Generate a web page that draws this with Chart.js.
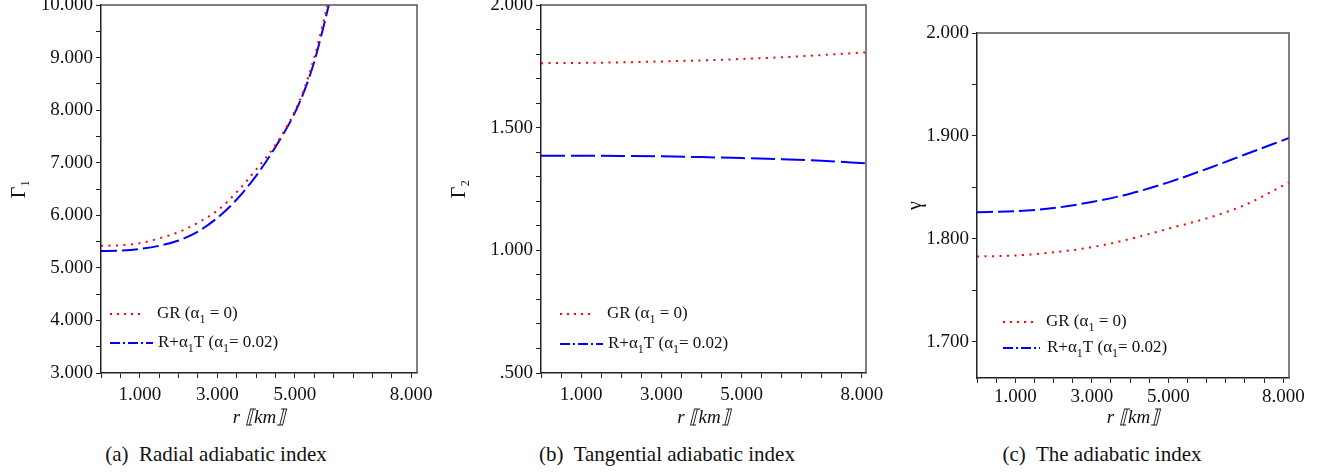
<!DOCTYPE html>
<html>
<head>
<meta charset="utf-8">
<script src="https://cdn.jsdelivr.net/npm/chart.js@4.4.1/dist/chart.umd.min.js"></script>
<style>
  html, body { margin: 0; padding: 0; background: #fff; }
  body { width: 1328px; height: 473px; position: relative; overflow: hidden; font-family: "Liberation Serif", "Times New Roman", serif; }
  canvas { position: absolute; top: 0; }
  .cap { position: absolute; top: 442px; width: 420px; font-size: 21px; line-height: 24px; white-space: pre; text-align: center; color: #111; }
</style>
</head>
<body>
<canvas id="chartA" width="440" height="430" style="left:0px"></canvas>
<canvas id="chartB" width="450" height="430" style="left:440px"></canvas>
<canvas id="chartC" width="438" height="430" style="left:890px"></canvas>
<div class="cap" style="left:6px">(a)  Radial adiabatic index</div>
<div class="cap" style="left:457px">(b)  Tangential adiabatic index</div>
<div class="cap" style="left:892px">(c)  The adiabatic index</div>
<script>
// radius in km
const radiusA = [0, 0.5, 1, 1.5, 2, 2.5, 3, 3.5, 4, 4.5, 5, 5.25, 5.5, 5.75, 5.9];
const radialGR = [5.42, 5.43, 5.47, 5.56, 5.68, 5.86, 6.09, 6.44, 6.87, 7.34, 7.98, 8.42, 9.0, 9.72, 10.2];
const radialT  = [5.32, 5.33, 5.36, 5.42, 5.52, 5.69, 5.95, 6.30, 6.75, 7.30, 7.95, 8.38, 8.92, 9.62, 10.08];

const radiusB = [0, 1, 2, 3, 4, 5, 6, 7, 8.1];
const tangGR = [1.763, 1.764, 1.766, 1.770, 1.774, 1.780, 1.787, 1.796, 1.807];
const tangT  = [1.386, 1.386, 1.385, 1.383, 1.380, 1.376, 1.371, 1.365, 1.355];

const radiusC = [0, 1, 2, 3, 4, 5, 6, 7, 8.15];
const adiabGR = [1.783, 1.784, 1.787, 1.792, 1.800, 1.810, 1.820, 1.833, 1.855];
const adiabT  = [1.826, 1.827, 1.830, 1.836, 1.844, 1.855, 1.868, 1.882, 1.898];

const xLabels = [1, 3, 5, 8];
const yLabelsA = [3, 4, 5, 6, 7, 8, 9, 10];
const yLabelsB = [0.5, 1, 1.5, 2];
const yLabelsC = [1.7, 1.8, 1.9, 2];

const labelGR = 'GR (α_1 = 0)';
const labelT = 'R+α_1T (α_1= 0.02)';

const serif = '"Liberation Serif", "Times New Roman", serif';

function pts(xs, ys) {
  return xs.map((x, i) => ({ x: x, y: ys[i] }));
}

function fmt(v) {
  let s = v.toFixed(3);
  if (s.startsWith('0.')) s = s.slice(1);
  return s;
}

function steps(from, to, step) {
  const out = [];
  const n = Math.round((to - from) / step);
  for (let i = 0; i <= n; i++) out.push(Math.round((from + i * step) * 1000) / 1000);
  return out;
}

// draws "α_1" style text with subscripts
function richText(ctx, str, x, y, size) {
  const parts = str.split(/_(.)/);
  let cx = x;
  parts.forEach((p, i) => {
    if (!p) return;
    const sub = i % 2 === 1;
    ctx.font = (sub ? Math.round(size * 0.72) : size) + 'px ' + serif;
    ctx.fillText(p, cx, sub ? y + size * 0.35 : y);
    cx += ctx.measureText(p).width;
  });
}

const framePlugin = {
  id: 'frameLegend',
  afterDraw(chart, args, opts) {
    const { ctx, chartArea: a } = chart;
    ctx.save();
    ctx.strokeStyle = '#555';
    ctx.lineWidth = 1.5;
    ctx.beginPath();
    ctx.moveTo(a.left, a.top);
    ctx.lineTo(a.right, a.top);
    ctx.lineTo(a.right, a.bottom);
    ctx.stroke();

    chart.data.datasets.forEach((ds, i) => {
      const y = opts.y + i * opts.gap;
      ctx.strokeStyle = ds.borderColor;
      ctx.lineWidth = 2;
      ctx.setLineDash(ds.legendDash);
      ctx.beginPath();
      ctx.moveTo(opts.x, y);
      ctx.lineTo(opts.x + ds.legendLen, y);
      ctx.stroke();
      ctx.setLineDash([]);
      ctx.fillStyle = '#111';
      ctx.textBaseline = 'middle';
      ctx.textAlign = 'left';
      richText(ctx, ds.label, opts.x + opts.textGap + i, y, 17);
    });
    ctx.restore();
  }
};

function makeChart(id, cfg) {
  const xTicks = steps(0, 8, 0.5);
  const yTicks = steps(cfg.yMin0, cfg.yMax, cfg.yStep);
  return new Chart(document.getElementById(id), {
    type: 'line',
    data: {
      datasets: [
        {
          label: labelGR,
          data: pts(cfg.xs, cfg.gr),
          borderColor: '#ff0000',
          borderWidth: 2,
          borderDash: [2, 5.5],
          legendDash: [2, 5],
          legendLen: 33,
          pointRadius: 0,
          cubicInterpolationMode: 'monotone',
          fill: false
        },
        {
          label: labelT,
          data: pts(cfg.xs, cfg.t),
          borderColor: '#0000ff',
          borderWidth: 2,
          borderDash: cfg.dash,
          legendDash: [10, 3, 2, 3],
          legendLen: cfg.blueLen,
          pointRadius: 0,
          cubicInterpolationMode: 'monotone',
          fill: false
        }
      ]
    },
    options: {
      responsive: false,
      animation: false,
      devicePixelRatio: 1,
      layout: { padding: { left: 0, top: cfg.top, right: cfg.right, bottom: 0 } },
      plugins: {
        legend: { display: false },
        tooltip: { enabled: false },
        frameLegend: cfg.legend
      },
      scales: {
        x: {
          type: 'linear',
          min: 0,
          max: cfg.xMax,
          afterBuildTicks: s => { s.ticks = xTicks.map(v => ({ value: v })); },
          afterFit: s => { s.height = cfg.xHeight; s.paddingLeft = 0; s.paddingRight = 0; },
          border: { display: true, color: '#222', width: 1.5 },
          grid: { drawOnChartArea: false, drawTicks: true, tickLength: 5, color: '#222' },
          ticks: {
            autoSkip: false,
            maxRotation: 0,
            padding: cfg.xPad,
            color: '#111',
            font: { family: serif, size: 19 },
            callback: v => xLabels.includes(v) ? fmt(v) : ''
          },
          title: {
            display: true,
            text: 'r ⟦km⟧',
            color: '#111',
            font: { family: serif, size: 19, style: 'italic' },
            padding: { top: 0, bottom: 1 }
          }
        },
        y: {
          type: 'linear',
          min: cfg.yMin,
          max: cfg.yMax,
          afterBuildTicks: s => { s.ticks = yTicks.map(v => ({ value: v })); },
          afterFit: s => { s.width = cfg.yWidth; s.paddingTop = 0; s.paddingBottom = 0; },
          border: { display: true, color: '#222', width: 1.5 },
          grid: { drawOnChartArea: false, drawTicks: true, tickLength: 5, color: '#222' },
          ticks: {
            autoSkip: false,
            padding: 3,
            color: '#111',
            font: { family: serif, size: 19 },
            callback: v => cfg.yLabels.some(l => Math.abs(l - v) < 1e-6) ? fmt(v) : ''
          },
          title: {
            display: true,
            text: cfg.yTitle,
            color: '#111',
            font: { family: serif, size: 20 },
            padding: { top: cfg.yTitlePad, bottom: 0 }
          }
        }
      }
    },
    plugins: [framePlugin]
  });
}

makeChart('chartA', {
  xs: radiusA, gr: radialGR, t: radialT,
  xMax: 8.15, yMin: 3, yMin0: 3, yMax: 10, yStep: 0.5, yLabels: yLabelsA,
  yTitle: 'Γ₁', yTitlePad: 8,
  top: 5, right: 23, yWidth: 101, xHeight: 57, xPad: 6,
  dash: [16, 5], blueLen: 43,
  legend: { x: 110, y: 314, gap: 29, textGap: 47 }
});

makeChart('chartB', {
  xs: radiusB, gr: tangGR, t: tangT,
  xMax: 8.1, yMin: 0.5, yMin0: 0.5, yMax: 2, yStep: 0.1, yLabels: yLabelsB,
  yTitle: 'Γ₂', yTitlePad: 8,
  top: 5, right: 24, yWidth: 101, xHeight: 57, xPad: 6,
  dash: [24, 6], blueLen: 43,
  legend: { x: 120, y: 314, gap: 30, textGap: 47 }
});

makeChart('chartC', {
  xs: radiusC, gr: adiabGR, t: adiabT,
  xMax: 8.15, yMin: 1.665, yMin0: 1.7, yMax: 2, yStep: 0.05, yLabels: yLabelsC,
  yTitle: 'γ', yTitlePad: 14,
  top: 33, right: 39, yWidth: 87, xHeight: 52, xPad: 3,
  dash: [16, 5], blueLen: 37,
  legend: { x: 113, y: 322, gap: 26, textGap: 43 }
});
</script>
</body>
</html>
